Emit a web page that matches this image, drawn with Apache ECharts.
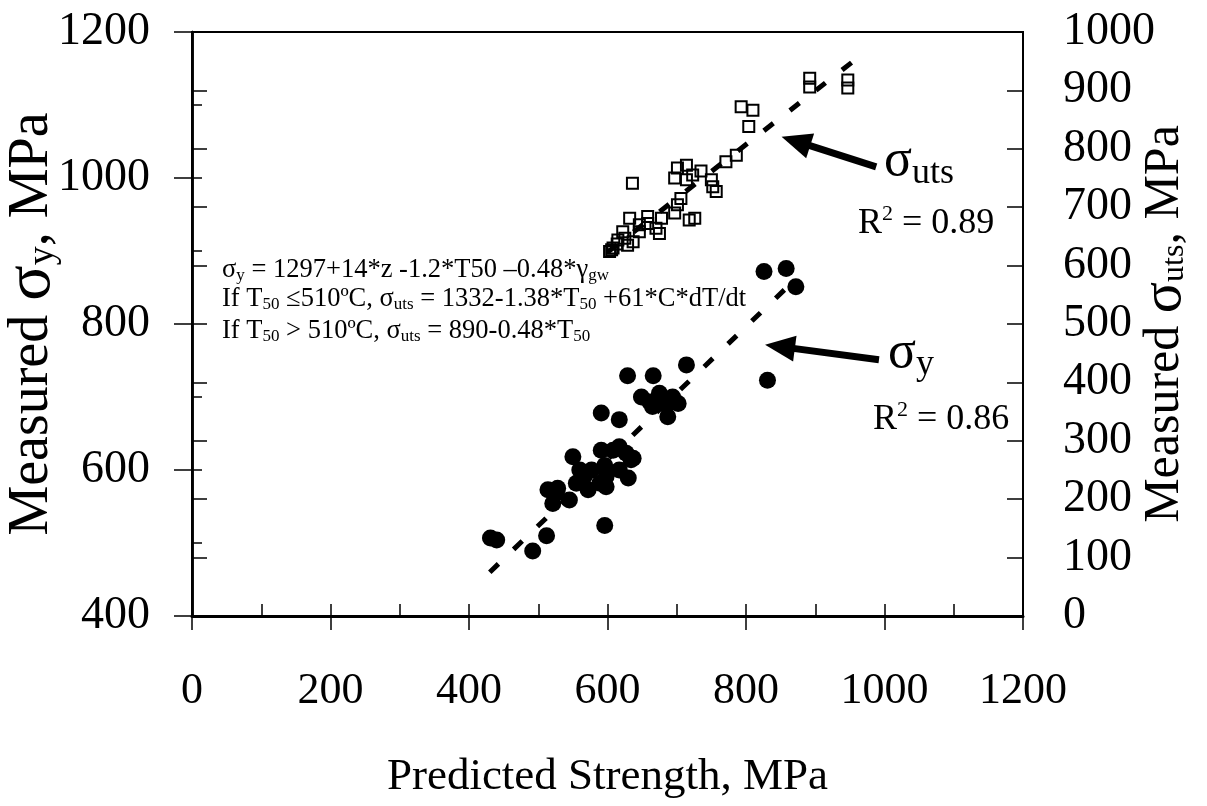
<!DOCTYPE html>
<html>
<head>
<meta charset="utf-8">
<title>Measured vs predicted strength</title>
<script src="https://cdn.jsdelivr.net/npm/echarts@6/dist/echarts.min.js"></script>
<style>
  html, body { margin: 0; padding: 0; background: #fff; }
  #chart { width: 1207px; height: 806px; }
</style>
</head>
<body>
<div id="chart"></div>
<script>
// axis ticks
const xTicks = [0, 200, 400, 600, 800, 1000, 1200]
const xMinorStep = 100
const yLeftTicks = [400, 600, 800, 1000, 1200]
const yLeftMinorStep = 100
const yRightTicks = [0, 100, 200, 300, 400, 500, 600, 700, 800, 900, 1000]

// yield strength: predicted (x) / measured (left axis)
const yieldPredicted = [826, 858, 872, 831, 714, 666, 629, 591, 617, 649, 675, 694, 685, 661, 702, 687, 665,
  608, 627, 634, 630, 617, 596, 577, 550, 567, 589, 598, 572, 555, 514, 528, 526, 521, 545, 596, 512, 492,
  440, 431, 591, 617, 637, 598, 560]
const yieldMeasured = [872, 876, 851, 723, 744, 729, 729, 678, 669, 700, 705, 700, 689, 693, 691, 673, 687,
  627, 623, 614, 589, 600, 606, 600, 618, 592, 582, 577, 573, 582, 573, 575, 568, 554, 559, 524, 510, 489,
  504, 507, 627, 632, 616, 591, 600]

// UTS: predicted (x) / measured (right axis)
const utsPredicted = [892, 892, 947, 947, 793, 810, 804, 786, 771, 636, 701, 714, 697, 723, 750, 752, 757,
  714, 706, 701, 726, 718, 697, 678, 658, 632, 670, 675, 646, 622, 615, 637, 603, 608, 629, 658, 735,
  606, 625, 646, 614]
const utsMeasured = [921, 906, 918, 904, 872, 866, 838, 789, 778, 741, 767, 772, 750, 755, 747, 735, 727,
  747, 715, 704, 681, 678, 690, 681, 684, 681, 664, 655, 670, 658, 644, 641, 624, 630, 635, 672, 762,
  627, 647, 658, 637]

// regression lines, end points
const yieldFitX = [430, 870]
const yieldFitY = [460, 860]
const utsFitX = [600, 955]
const utsFitY = [623, 950]

// arrows towards the fits: [tail, head]
const yieldArrow = [[992, 751], [849, 769]]
const utsArrow = [[988, 769], [872, 813]]

const serif = '"Liberation Serif", "Times New Roman", serif'
const black = '#000'

const chart = echarts.init(document.getElementById('chart'))

function pairs(xs, ys) {
  return xs.map((x, i) => [x, ys[i]])
}

function plain(v) {
  return String(v)
}

function arrowLine(a) {
  return {
    silent: true,
    animation: false,
    symbol: ['none', 'triangle'],
    symbolSize: [26, 30],
    label: { show: false },
    lineStyle: { color: black, width: 7, type: 'solid', opacity: 1 },
    emphasis: { disabled: true },
    data: [[{ coord: a[0] }, { coord: a[1] }]],
  }
}

// overlay axis that only draws inner ticks
function innerTicks(pos, min, max, step, len) {
  return {
    type: 'value',
    position: pos,
    min: min,
    max: max,
    interval: step,
    axisLine: { show: false },
    axisTick: { show: true, inside: true, length: len, lineStyle: { color: black, width: 1.5 } },
    axisLabel: { show: false },
    splitLine: { show: false },
  }
}

const labelStyle = { fontFamily: serif, color: black, fontSize: 46, formatter: plain }

// equation block styles (normal text + lowered subscript)
const eqRich = {
  t: { fontFamily: serif, fontSize: 26.5, lineHeight: 30 },
  b: { fontFamily: serif, fontSize: 17, lineHeight: 30, padding: [12, 0, 0, 0] },
}
const r2Rich = {
  r: { fontFamily: serif, fontSize: 36, lineHeight: 44 },
  p: { fontFamily: serif, fontSize: 22, lineHeight: 44, padding: [0, 0, 20, 0] },
}

const option = {
  animation: false,
  backgroundColor: '#fff',
  grid: {
    left: 192,
    right: 184,
    top: 32,
    bottom: 190,
    containLabel: false,
    outerBoundsMode: 'none',
    show: true,
    borderColor: black,
    borderWidth: 2,
  },
  xAxis: [
    {
      type: 'value',
      position: 'bottom',
      min: xTicks[0],
      max: xTicks[xTicks.length - 1],
      interval: xTicks[1] - xTicks[0],
      axisLine: { show: true, lineStyle: { color: black, width: 3 } },
      axisTick: { show: true, length: 14, lineStyle: { color: black, width: 1.5 } },
      axisLabel: { margin: 53, fontFamily: serif, color: black, fontSize: 44, formatter: plain },
      splitLine: { show: false },
      name: 'Predicted Strength, MPa',
      nameLocation: 'middle',
      nameGap: 136,
      nameMoveOverlap: false,
      nameTextStyle: { fontFamily: serif, color: black, fontSize: 45, lineHeight: 50 },
    },
    innerTicks('bottom', xTicks[0], xTicks[xTicks.length - 1], xMinorStep, 12),
  ],
  yAxis: [
    {
      type: 'value',
      position: 'left',
      min: yLeftTicks[0],
      max: yLeftTicks[yLeftTicks.length - 1],
      interval: yLeftTicks[1] - yLeftTicks[0],
      axisLine: { show: true, lineStyle: { color: black, width: 2.5 } },
      axisTick: { show: true, length: 18, lineStyle: { color: black, width: 1.5 } },
      axisLabel: Object.assign({ margin: 42 }, labelStyle),
      splitLine: { show: false },
      name: '{t|Measured }{s|σ}{sub|y}{t|, MPa}',
      nameLocation: 'middle',
      nameRotate: 90,
      nameGap: 128,
      nameMoveOverlap: false,
      nameTextStyle: {
        rich: {
          t: { fontFamily: serif, color: black, fontSize: 56, lineHeight: 64 },
          s: { fontFamily: serif, color: black, fontSize: 66, lineHeight: 64 },
          sub: { fontFamily: serif, color: black, fontSize: 38, lineHeight: 64, padding: [22, 0, 0, 0] },
        },
      },
    },
    {
      type: 'value',
      position: 'right',
      min: yRightTicks[0],
      max: yRightTicks[yRightTicks.length - 1],
      interval: yRightTicks[1] - yRightTicks[0],
      axisLine: { show: true, lineStyle: { color: black, width: 2.5 } },
      axisTick: { show: true, length: 15, lineStyle: { color: black, width: 1.5 } },
      axisLabel: Object.assign({ margin: 40 }, labelStyle),
      splitLine: { show: false },
      name: '{t|Measured }{s|σ}{sub|uts}{t|, MPa}',
      nameLocation: 'middle',
      nameRotate: 90,
      nameGap: 112,
      nameMoveOverlap: false,
      nameTextStyle: {
        rich: {
          t: { fontFamily: serif, color: black, fontSize: 50, lineHeight: 60 },
          s: { fontFamily: serif, color: black, fontSize: 58, lineHeight: 60 },
          sub: { fontFamily: serif, color: black, fontSize: 32, lineHeight: 60, padding: [20, 0, 0, 0] },
        },
      },
    },
    innerTicks('left', yLeftTicks[0], yLeftTicks[yLeftTicks.length - 1], yLeftMinorStep, 10),
    innerTicks('right', yRightTicks[0], yRightTicks[yRightTicks.length - 1], yRightTicks[1] - yRightTicks[0], 16),
  ],
  series: [
    {
      name: 'yield fit',
      type: 'line',
      yAxisIndex: 0,
      data: pairs(yieldFitX, yieldFitY),
      symbol: 'none',
      silent: true,
      lineStyle: { color: black, width: 5, type: [12, 21], cap: 'butt' },
      markLine: arrowLine(yieldArrow),
      z: 1,
    },
    {
      name: 'uts fit',
      type: 'line',
      yAxisIndex: 1,
      data: pairs(utsFitX, utsFitY),
      symbol: 'none',
      silent: true,
      lineStyle: { color: black, width: 5, type: [12, 21], cap: 'butt' },
      markLine: arrowLine(utsArrow),
      z: 1,
    },
    {
      name: 'yield',
      type: 'scatter',
      yAxisIndex: 0,
      data: pairs(yieldPredicted, yieldMeasured),
      symbol: 'circle',
      symbolSize: 17,
      itemStyle: { color: black, opacity: 1 },
      z: 3,
    },
    {
      name: 'uts',
      type: 'scatter',
      yAxisIndex: 1,
      data: pairs(utsPredicted, utsMeasured),
      symbol: 'rect',
      symbolSize: 11,
      itemStyle: { color: 'rgba(255,255,255,0)', borderColor: black, borderWidth: 2, opacity: 1 },
      z: 3,
    },
  ],
  graphic: [
    {
      type: 'text', x: 884, y: 161,
      style: {
        text: '{s|σ}{u|uts}', align: 'left', verticalAlign: 'middle', fill: black,
        rich: {
          s: { fontFamily: serif, fontSize: 52, lineHeight: 60 },
          u: { fontFamily: serif, fontSize: 36, lineHeight: 60, padding: [26, 0, 0, 0] },
        },
      },
    },
    {
      type: 'text', x: 858, y: 224,
      style: { text: '{r|R}{p|2}{r| = 0.89}', align: 'left', verticalAlign: 'middle', fill: black, rich: r2Rich },
    },
    {
      type: 'text', x: 888, y: 353,
      style: {
        text: '{s|σ}{u|y}', align: 'left', verticalAlign: 'middle', fill: black,
        rich: {
          s: { fontFamily: serif, fontSize: 52, lineHeight: 60 },
          u: { fontFamily: serif, fontSize: 36, lineHeight: 60, padding: [24, 0, 0, 0] },
        },
      },
    },
    {
      type: 'text', x: 873, y: 420,
      style: { text: '{r|R}{p|2}{r| = 0.86}', align: 'left', verticalAlign: 'middle', fill: black, rich: r2Rich },
    },
    {
      type: 'text', x: 222, y: 270,
      style: {
        text: '{t|σ}{b|y}{t| = 1297+14*z -1.2*T50 –0.48*γ}{b|gw}',
        align: 'left', verticalAlign: 'middle', fill: black, rich: eqRich,
      },
    },
    {
      type: 'text', x: 222, y: 299,
      style: {
        text: '{t|If T}{b|50}{t| ≤510ºC, σ}{b|uts}{t| = 1332-1.38*T}{b|50}{t| +61*C*dT/dt}',
        align: 'left', verticalAlign: 'middle', fill: black, rich: eqRich,
      },
    },
    {
      type: 'text', x: 222, y: 331,
      style: {
        text: '{t|If T}{b|50}{t| > 510ºC, σ}{b|uts}{t| = 890-0.48*T}{b|50}',
        align: 'left', verticalAlign: 'middle', fill: black, rich: eqRich,
      },
    },
  ],
}

chart.setOption(option)
</script>
</body>
</html>
